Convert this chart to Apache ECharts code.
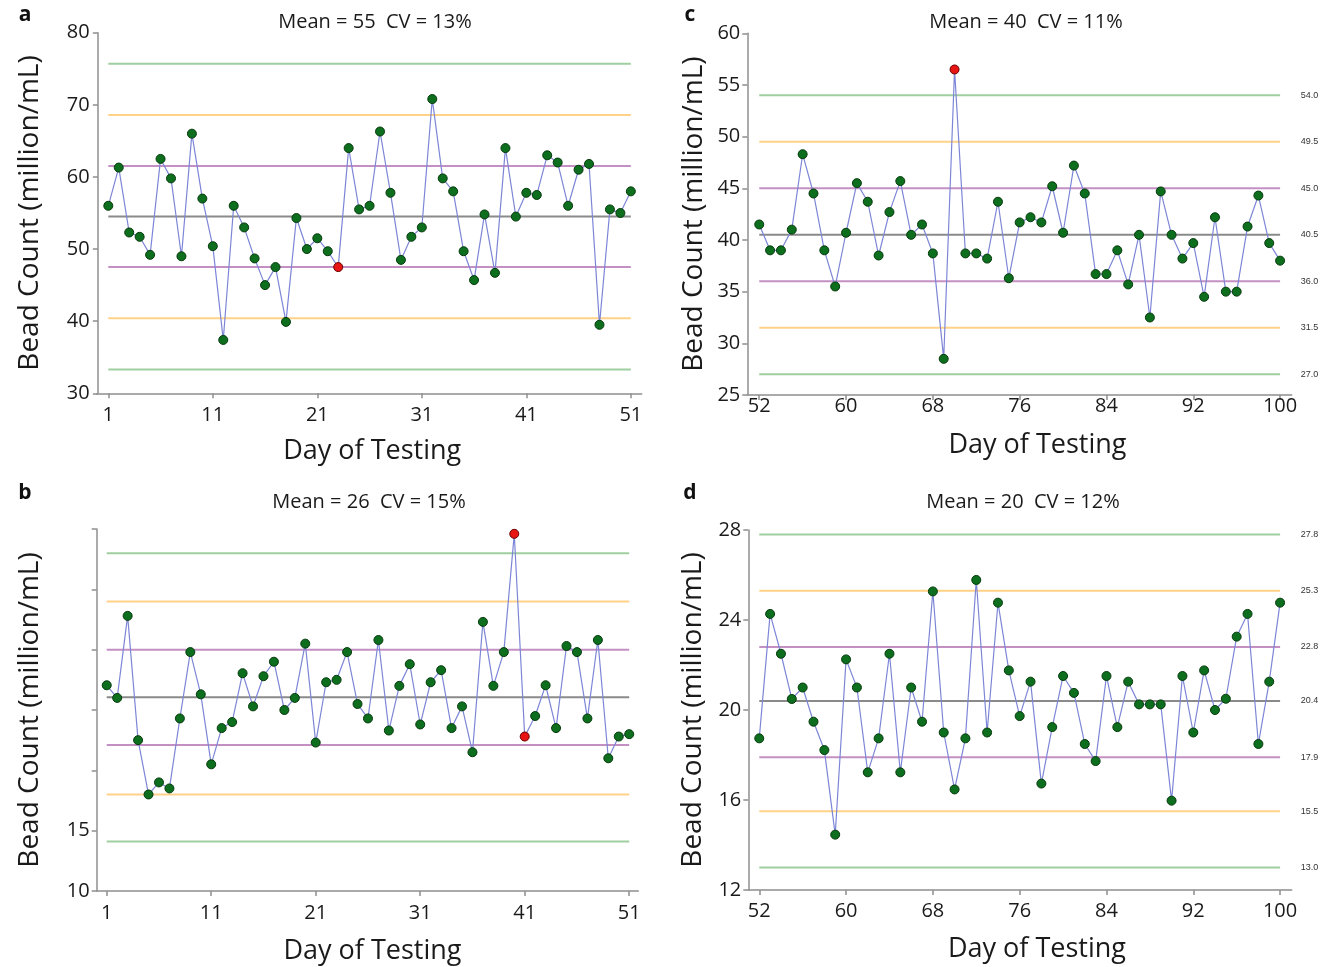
<!DOCTYPE html>
<html><head><meta charset="utf-8">
<script src="https://cdn.jsdelivr.net/npm/echarts@6/dist/echarts.min.js"></script>
<style>html,body{margin:0;padding:0;background:#fff}#c{width:1332px;height:967px}</style>
</head><body><div id="c"></div>
<script>
// ---------- data ----------
const aStartDay = 1;
const aValues = [56.0, 61.3, 52.3, 51.7, 49.2, 62.5, 59.8, 49.0, 66.0, 57.0,
  50.4, 37.4, 56.0, 53.0, 48.7, 45.0, 47.5, 39.9, 54.3, 50.0,
  51.5, 49.7, 47.5, 64.0, 55.5, 56.0, 66.3, 57.8, 48.5, 51.7,
  53.0, 70.8, 59.8, 58.0, 49.7, 45.7, 54.8, 46.7, 64.0, 54.5,
  57.8, 57.5, 63.0, 62.0, 56.0, 61.0, 61.8, 39.5, 55.5, 55.0, 58.0];
const aFlagged = [23];
const aLimits = [33.3, 40.4, 47.5, 54.5, 61.5, 68.6, 75.7];

const bStartDay = 1;
const bValues = [27.05, 26.0, 32.8, 22.5, 18.0, 19.0, 18.5, 24.3, 29.8, 26.3,
  20.5, 23.5, 24.0, 28.05, 25.3, 27.8, 29.0, 25.0, 26.0, 30.5,
  22.3, 27.3, 27.5, 29.8, 25.5, 24.3, 30.8, 23.3, 27.0, 28.8,
  23.8, 27.3, 28.3, 23.5, 25.3, 21.5, 32.3, 27.0, 29.8, 39.6,
  22.8, 24.5, 27.05, 23.5, 30.3, 29.8, 24.3, 30.8, 21.0, 22.8, 23.0];
const bFlagged = [40, 41];
const bLimits = [14.1, 18.0, 22.1, 26.05, 30.0, 34.0, 38.0];
const bYLabels = [10, 15];

const cStartDay = 52;
const cValues = [41.5, 39.0, 39.0, 41.0, 48.3, 44.5, 39.0, 35.5, 40.7, 45.5,
  43.7, 38.5, 42.7, 45.7, 40.5, 41.5, 38.7, 28.5, 56.5, 38.7,
  38.7, 38.2, 43.7, 36.3, 41.7, 42.2, 41.7, 45.2, 40.7, 47.2,
  44.5, 36.7, 36.7, 39.0, 35.7, 40.5, 32.5, 44.7, 40.5, 38.2,
  39.7, 34.5, 42.2, 35.0, 35.0, 41.3, 44.3, 39.7, 38.0];
const cFlagged = [70];
const cLimits = [27.0, 31.5, 36.0, 40.5, 45.0, 49.5, 54.0];

const dStartDay = 52;
const dValues = [18.74, 24.27, 22.5, 20.49, 21.0, 19.48, 18.22, 14.46, 22.25, 21.0,
  17.23, 18.74, 22.5, 17.23, 21.0, 19.48, 25.27, 19.0, 16.47, 18.74,
  25.78, 19.0, 24.77, 21.76, 19.73, 21.26, 16.73, 19.24, 21.51, 20.76,
  18.49, 17.73, 21.51, 19.24, 21.26, 20.25, 20.25, 20.25, 15.97, 21.51,
  19.0, 21.76, 20.0, 20.5, 23.26, 24.27, 18.49, 21.26, 24.77];
const dFlagged = [];
const dLimits = [13.0, 15.5, 17.9, 20.4, 22.8, 25.3, 27.8];

const abDayTicks = [1, 11, 21, 31, 41, 51];
const cdDayTicks = [52, 60, 68, 76, 84, 92, 100];
const titles = ['Mean = 55  CV = 13%', 'Mean = 26  CV = 15%', 'Mean = 40  CV = 11%', 'Mean = 20  CV = 12%'];
const letters = ['a', 'b', 'c', 'd'];
const yName = 'Bead Count (million/mL)';
const xName = 'Day of Testing';

// ---------- styling ----------
const FONT = '"Open Sans", Lato, sans-serif';
const limitColors = ['#9fcf9f', '#ffd287', '#c490c4', '#8a8a8a', '#c490c4', '#ffd287', '#9fcf9f'];
const axisLineStyle = { color: '#8f8f8f', width: 1.5 };

const grids = [
  { left: 96.7, top: 32.7, width: 545, height: 360.6 },
  { left: 96.7, top: 529, width: 541.6, height: 362 },
  { left: 747.3, top: 33.3, width: 544.4, height: 361.7 },
  { left: 748.3, top: 530, width: 543.4, height: 360 }
].map(g => Object.assign({ outerBoundsMode: 'none', containLabel: false }, g));

function xAxis(gi, min, max, ticks, labelMargin, nameGap, shift) {
  return {
    type: 'value', gridIndex: gi, min: min, max: max,
    splitLine: { show: false },
    axisLine: { show: true, lineStyle: axisLineStyle },
    axisTick: { show: true, customValues: ticks, length: 5, lineStyle: axisLineStyle },
    axisLabel: { customValues: ticks, fontSize: 20, color: '#1a1a1a', fontFamily: FONT, margin: labelMargin },
    name: xName, nameLocation: 'middle', nameGap: nameGap,
    nameTextStyle: { fontSize: 27, color: '#1a1a1a', fontFamily: FONT, padding: [0, 0, 0, shift * 2] }
  };
}
function yAxis(gi, min, max, interval, nameGap, labelValues) {
  const ax = {
    type: 'value', gridIndex: gi, min: min, max: max, interval: interval,
    splitLine: { show: false },
    axisLine: { show: true, lineStyle: axisLineStyle },
    axisTick: { show: true, length: 5, lineStyle: axisLineStyle },
    axisLabel: { fontSize: 20, color: '#1a1a1a', fontFamily: FONT, margin: 7 },
    name: yName, nameLocation: 'middle', nameGap: nameGap,
    nameTextStyle: { fontSize: 28, color: '#1a1a1a', fontFamily: FONT }
  };
  if (labelValues) ax.axisLabel.customValues = labelValues;
  return ax;
}
function rightAxis(gi, min, max, labels) {
  return {
    type: 'value', gridIndex: gi, min: min, max: max, position: 'right',
    splitLine: { show: false }, axisLine: { show: false }, axisTick: { show: false },
    axisLabel: { customValues: labels, fontSize: 9, color: '#333', fontFamily: 'Arial, sans-serif', margin: 9,
      formatter: v => Number(v).toFixed(1) }
  };
}

const xAxes = [
  xAxis(0, -0.11, 52.04, abDayTicks, 12, 45, 3),
  xAxis(1, 0.04, 51.87, abDayTicks, 12, 47, 5),
  xAxis(2, 50.9, 101.07, cdDayTicks, 1, 37, 18),
  xAxis(3, 50.99, 101.07, cdDayTicks, 11, 46, 17)
];
const yAxes = [
  yAxis(0, 30, 80, 10, 53),
  yAxis(1, 10, 40, 5, 53, bYLabels),
  yAxis(2, 25, 60, 5, 39),
  yAxis(3, 12, 28, 4, 41),
  rightAxis(2, 25, 60, cLimits),
  rightAxis(3, 12, 28, dLimits)
];

const panels = [
  { values: aValues, start: aStartDay, flagged: aFlagged, limits: aLimits, x: 0, y: 0 },
  { values: bValues, start: bStartDay, flagged: bFlagged, limits: bLimits, x: 1, y: 1 },
  { values: cValues, start: cStartDay, flagged: cFlagged, limits: cLimits, x: 2, y: 2 },
  { values: dValues, start: dStartDay, flagged: dFlagged, limits: dLimits, x: 3, y: 3 }
];

const series = [];
panels.forEach(p => {
  const first = p.start, last = p.start + p.values.length - 1;
  p.limits.forEach((v, i) => {
    series.push({
      type: 'line', xAxisIndex: p.x, yAxisIndex: p.y, silent: true, symbol: 'none',
      data: [[first, v], [last, v]],
      lineStyle: { color: limitColors[i], width: 2 }, z: 1, animation: false
    });
  });
  series.push({
    type: 'line', xAxisIndex: p.x, yAxisIndex: p.y, symbol: 'circle', symbolSize: 9,
    data: p.values.map((v, i) => {
      const day = p.start + i;
      const d = { value: [day, v] };
      if (p.flagged.indexOf(day) >= 0) d.itemStyle = { color: '#e81515', borderColor: '#6a0000' };
      return d;
    }),
    lineStyle: { color: '#7d86d6', width: 1.2 },
    itemStyle: { color: '#0d6e1e', borderColor: '#053a0c', borderWidth: 1 },
    z: 3, animation: false
  });
});

const titlePos = [[375, 22], [369, 502], [1026, 22], [1023, 502]];
const letterPos = [[25, 15], [25, 493], [690, 15], [690, 493]];
const graphic = [];
titles.forEach((t, i) => graphic.push({
  type: 'text', x: titlePos[i][0], y: titlePos[i][1],
  style: { text: t, fill: '#1a1a1a', font: '20px ' + FONT, textAlign: 'center', textVerticalAlign: 'middle' }
}));
letters.forEach((t, i) => graphic.push({
  type: 'text', x: letterPos[i][0], y: letterPos[i][1],
  style: { text: t, fill: '#111', font: 'bold 21px ' + FONT, textAlign: 'center', textVerticalAlign: 'middle' }
}));

const chart = echarts.init(document.getElementById('c'), null, { renderer: 'canvas' });
chart.setOption({
  backgroundColor: '#fff',
  animation: false,
  grid: grids,
  xAxis: xAxes,
  yAxis: yAxes,
  series: series,
  graphic: graphic
});
</script></body></html>
